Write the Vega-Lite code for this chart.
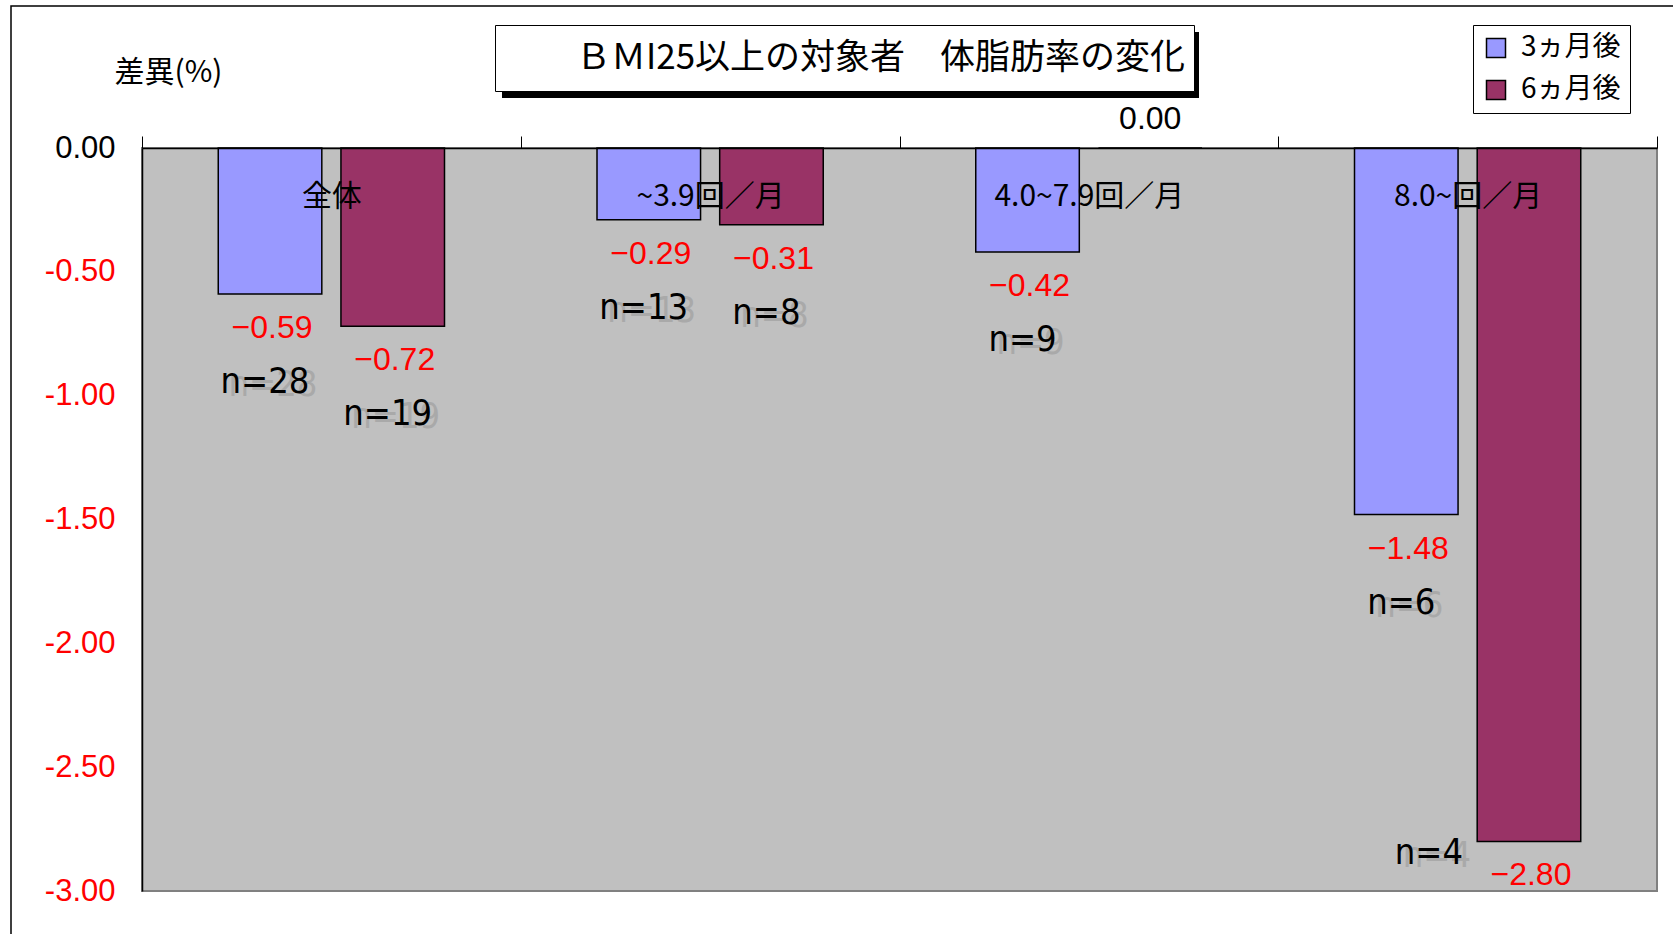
{
  "$schema": "https://vega.github.io/schema/vega-lite/v6.json",
  "width": 1515,
  "height": 743,
  "autosize": {"type": "none"},
  "padding": {"left": 142, "top": 148, "right": 16, "bottom": 43},
  "background": "white",
  "config": {
    "view": {"fill": "#C0C0C0", "stroke": "#808080", "strokeWidth": 2},
    "font": "Liberation Sans"
  },
  "data": {
    "values": [
      {"cat": "全体", "series": "3ヵ月後", "value": -0.59, "nlabel": "n=28"},
      {"cat": "全体", "series": "6ヵ月後", "value": -0.72, "nlabel": "n=19"},
      {"cat": "~3.9回／月", "series": "3ヵ月後", "value": -0.29, "nlabel": "n=13"},
      {"cat": "~3.9回／月", "series": "6ヵ月後", "value": -0.31, "nlabel": "n=8"},
      {"cat": "4.0~7.9回／月", "series": "3ヵ月後", "value": -0.42, "nlabel": "n=9"},
      {"cat": "4.0~7.9回／月", "series": "6ヵ月後", "value": 0.0, "nlabel": ""},
      {"cat": "8.0~回／月", "series": "3ヵ月後", "value": -1.48, "nlabel": "n=6"},
      {"cat": "8.0~回／月", "series": "6ヵ月後", "value": -2.80, "nlabel": "n=4"}
    ]
  },
  "encoding": {
    "x": {
      "field": "cat",
      "type": "nominal",
      "sort": ["全体", "~3.9回／月", "4.0~7.9回／月", "8.0~回／月"],
      "scale": {"paddingInner": 0, "paddingOuter": 0},
      "axis": {
        "orient": "top",
        "title": null,
        "domainColor": "black",
        "domainWidth": 1.5,
        "tickColor": "black",
        "tickWidth": 1,
        "tickSize": 12,
        "tickBand": "extent",
        "labelAngle": 0,
        "labelFont": "Noto Sans CJK JP",
        "labelFontSize": 30,
        "labelColor": "black",
        "labelLimit": 500,
        "labelPadding": -60,
        "labelBaseline": "middle",
        "zindex": 2
      }
    },
    "xOffset": {
      "field": "series",
      "type": "nominal",
      "sort": ["3ヵ月後", "6ヵ月後"],
      "scale": {"paddingInner": 0.156, "paddingOuter": 0.6215}
    },
    "y": {
      "field": "value",
      "type": "quantitative",
      "scale": {"domain": [-3, 0], "nice": false},
      "axis": {
        "values": [0, -0.5, -1, -1.5, -2, -2.5, -3],
        "labelExpr": "datum.value < 0 ? '-' + format(-datum.value, '.2f') : format(datum.value, '.2f')",
        "labelColor": {"condition": {"test": "datum.value < 0", "value": "#FF0000"}, "value": "black"},
        "labelFont": "Liberation Sans",
        "labelFontSize": 31,
        "labelPadding": 27,
        "ticks": false,
        "grid": false,
        "domainColor": "black",
        "domainWidth": 1.5,
        "title": "差異(%)",
        "titleAngle": 0,
        "titleX": -28,
        "titleY": -76,
        "titleAlign": "left",
        "titleBaseline": "middle",
        "titleFont": "Noto Sans CJK JP",
        "titleFontSize": 30,
        "titleFontWeight": "normal",
        "titleColor": "black"
      }
    }
  },
  "layer": [
    {
      "mark": {"type": "bar", "stroke": "black", "strokeWidth": 1.5},
      "encoding": {
        "fill": {
          "field": "series",
          "type": "nominal",
          "scale": {"domain": ["3ヵ月後", "6ヵ月後"], "range": ["#9999FF", "#993366"]},
          "legend": {
            "orient": "none",
            "legendX": 1331,
            "legendY": -123,
            "title": null,
            "fillColor": "white",
            "strokeColor": "black",
            "padding": 9,
            "symbolType": "square",
            "symbolSize": 361,
            "symbolStrokeColor": "black",
            "symbolStrokeWidth": 1.5,
            "labelFont": "Noto Sans CJK JP",
            "labelFontSize": 28,
            "labelColor": "black",
            "labelOffset": 11,
            "rowPadding": 14,
            "zindex": 1
          }
        }
      }
    },
    {
      "transform": [{"filter": "datum.value < 0"}],
      "mark": {"type": "text", "dy": 34, "dx": 2, "color": "#FF0000", "fontSize": 32, "font": "Liberation Sans", "baseline": "middle"},
      "encoding": {"text": {"field": "value", "type": "quantitative", "format": ".2f"}}
    },
    {
      "transform": [{"filter": "datum.value == 0"}],
      "mark": {"type": "text", "dy": -29, "dx": 0, "color": "black", "fontSize": 32, "font": "Liberation Sans", "baseline": "middle"},
      "encoding": {"text": {"field": "value", "type": "quantitative", "format": ".2f"}}
    },
    {
      "transform": [{"filter": "datum.value < 0 && datum.nlabel != 'n=4'"}],
      "mark": {"type": "text", "dy": 91, "dx": 3, "color": "#a9a9a9", "fontSize": 36, "font": "DejaVu Sans Condensed, Liberation Sans", "baseline": "middle"},
      "encoding": {"text": {"field": "nlabel"}}
    },
    {
      "transform": [{"filter": "datum.value < 0 && datum.nlabel != 'n=4'"}],
      "mark": {"type": "text", "dy": 88, "dx": -5, "color": "black", "fontSize": 36, "font": "DejaVu Sans Condensed, Liberation Sans", "baseline": "middle"},
      "encoding": {"text": {"field": "nlabel"}}
    },
    {
      "transform": [{"filter": "datum.nlabel == 'n=4'"}],
      "mark": {"type": "text", "dy": 15, "dx": -92, "color": "#a9a9a9", "fontSize": 36, "font": "DejaVu Sans Condensed, Liberation Sans", "baseline": "middle"},
      "encoding": {"text": {"field": "nlabel"}}
    },
    {
      "transform": [{"filter": "datum.nlabel == 'n=4'"}],
      "mark": {"type": "text", "dy": 12, "dx": -100, "color": "black", "fontSize": 36, "font": "DejaVu Sans Condensed, Liberation Sans", "baseline": "middle"},
      "encoding": {"text": {"field": "nlabel"}}
    },
    {
      "mark": {"type": "point", "opacity": 0},
      "encoding": {
        "color": {
          "datum": 0.3,
          "type": "quantitative",
          "scale": {"domain": [0, 1], "range": ["rgba(255,255,255,0)", "rgba(255,255,255,0)"]},
          "legend": {
            "orient": "none",
            "direction": "horizontal",
            "legendX": -131,
            "legendY": -142,
            "title": null,
            "padding": 0,
            "gradientLength": 1700,
            "gradientThickness": 1000,
            "gradientStrokeColor": "black",
            "gradientStrokeWidth": 1.5,
            "labelExpr": "''",
            "labelOpacity": 0,
            "zindex": 0
          }
        }
      }
    },
    {
      "mark": {"type": "point", "opacity": 0},
      "encoding": {
        "stroke": {
          "datum": 0.7,
          "type": "quantitative",
          "scale": {"domain": [0, 2], "range": ["black", "black"]},
          "legend": {
            "orient": "none",
            "direction": "horizontal",
            "legendX": 360,
            "legendY": -116,
            "title": null,
            "padding": 0,
            "gradientLength": 697,
            "gradientThickness": 66,
            "gradientStrokeWidth": 0,
            "labelExpr": "''",
            "labelOpacity": 0,
            "zindex": 0
          }
        }
      }
    },
    {
      "mark": {"type": "point", "opacity": 0},
      "encoding": {
        "shape": {
          "datum": "ＢＭI25以上の対象者　体脂肪率の変化",
          "legend": {
            "orient": "none",
            "legendX": 353,
            "legendY": -123,
            "title": null,
            "fillColor": "white",
            "strokeColor": "black",
            "padding": 8,
            "symbolSize": 2500,
            "symbolOpacity": 0,
            "symbolStrokeWidth": 0,
            "labelOffset": 23,
            "labelFont": "Noto Sans CJK JP",
            "labelFontSize": 35,
            "labelColor": "black",
            "labelLimit": 2000,
            "zindex": 1
          }
        }
      }
    }
  ]
}
